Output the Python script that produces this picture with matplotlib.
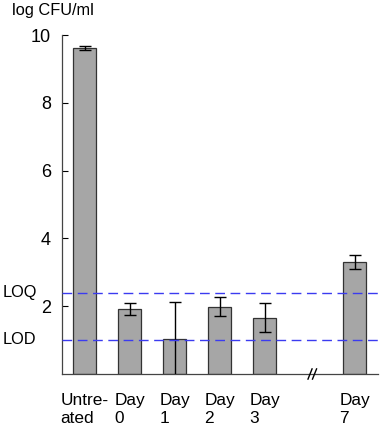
import matplotlib
matplotlib.use("Agg")
import matplotlib.pyplot as plt
import numpy as np

plt.rcParams['font.family'] = ['Liberation Sans', 'DejaVu Sans']

categories = ["Untre-\nated", "Day\n0", "Day\n1", "Day\n2", "Day\n3", "Day\n7"]
positions = [0, 1, 2, 3, 4, 6]
values = [9.62, 1.91, 1.03, 1.99, 1.66, 3.30]
errors = [0.05, 0.18, 1.08, 0.28, 0.43, 0.20]
loq = 2.39
lod = 0.99
yticks = [2, 4, 6, 8, 10]

fig = plt.figure(figsize=(3.83, 4.28), dpi=100)
ax = fig.add_axes([62/383, 1-374/428, (378-62)/383, (374-35)/428])

ax.bar(positions, values, width=0.51, color='#a6a6a6', edgecolor='#333333', linewidth=0.9, zorder=2)
ax.errorbar(positions, values, yerr=errors, fmt='none', ecolor='black', elinewidth=1.0,
            capsize=4, capthick=1.0, zorder=3)

ax.axhline(loq, color='#3b3bf0', linestyle=(0, (7, 4)), linewidth=1.0, zorder=4)
ax.axhline(lod, color='#3b3bf0', linestyle=(0, (7, 4)), linewidth=1.0, zorder=4)

ax.set_xlim(-0.5, 6.52)
ax.set_ylim(0, 10)
ax.set_yticks(yticks)
ax.set_yticklabels([str(t) for t in yticks], fontsize=13)
ax.tick_params(axis='y', direction='in', length=4, pad=8, width=0.8)
ax.set_xticks(positions)
ax.set_xticklabels(categories, fontsize=12.4, multialignment='left', linespacing=1.25)
ax.tick_params(axis='x', length=0, pad=14)

for s in ['top', 'right']:
    ax.spines[s].set_visible(False)
for s in ['left', 'bottom']:
    ax.spines[s].set_color('#444444')
    ax.spines[s].set_linewidth(0.9)

# axis break marks
trans = ax.get_xaxis_transform()
for dx in (-0.05, 0.05):
    ax.plot([5.06 + dx - 0.045, 5.06 + dx + 0.045], [-0.015, 0.015], transform=trans,
            color='black', linewidth=1.0, clip_on=False, zorder=5)

fig.text(12/383, 1-11/428, "log CFU/ml", fontsize=11.8, va='center', ha='left')
fig.text(3/383, 1-293/428, "LOQ", fontsize=11.8, va='center', ha='left')
fig.text(3/383, 1-340/428, "LOD", fontsize=11.8, va='center', ha='left')

fig.savefig("out.png", dpi=100)
